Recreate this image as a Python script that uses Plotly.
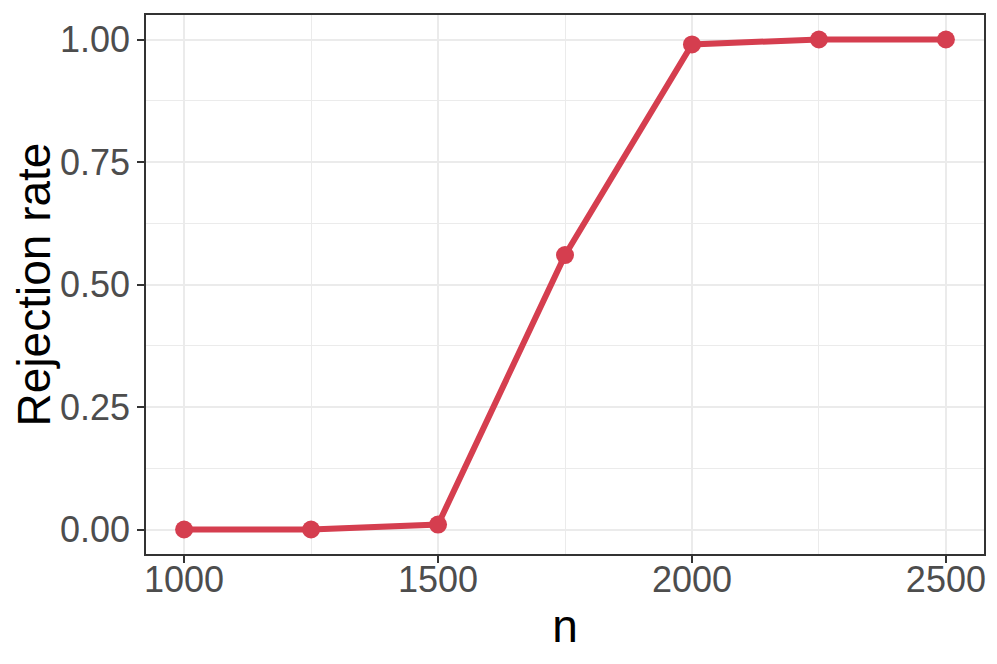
"""Rejection rate vs sample size, ggplot theme_bw look."""

import plotly.graph_objects as go

# Data
n_values = [1000, 1250, 1500, 1750, 2000, 2250, 2500]
rejection_rate = [0.0, 0.0, 0.01, 0.56, 0.99, 1.0, 1.0]
x_ticks = [1000, 1500, 2000, 2500]
y_ticks = [0.0, 0.25, 0.5, 0.75, 1.0]

RED = "#D53E4F"
GRID = "#EBEBEB"
DARK = "#333333"
FONT = "Liberation Sans, Arial, sans-serif"

fig = go.Figure()

fig.add_trace(go.Scatter(
    x=n_values,
    y=rejection_rate,
    mode="lines+markers",
    line=dict(color=RED, width=6),
    marker=dict(color=RED, size=18),
    showlegend=False,
))

axis_common = dict(
    showline=True,
    mirror=True,
    linecolor=DARK,
    linewidth=1.5,
    ticks="outside",
    ticklen=7,
    tickwidth=1.5,
    tickcolor=DARK,
    showgrid=True,
    gridcolor=GRID,
    gridwidth=2,
    zeroline=False,
    tickfont=dict(family=FONT, size=36, color="#4D4D4D"),
)

# page body has an 8px margin, so the figure is a bit smaller than the window
fig.update_layout(
    width=989,
    height=656,
    margin=dict(l=138, r=13, t=5, b=110),
    plot_bgcolor="white",
    paper_bgcolor="white",
    xaxis=dict(
        range=[925, 2575],
        tickvals=x_ticks,
        ticktext=[str(v) for v in x_ticks],
        ticklabelstandoff=-14,
        minor=dict(tick0=1000, dtick=250, showgrid=True, gridcolor=GRID,
                   gridwidth=1, ticks=""),
        title=dict(text="n", font=dict(family=FONT, size=46, color="black"),
                   standoff=11),
        **axis_common,
    ),
    yaxis=dict(
        range=[-0.05, 1.05],
        tickvals=y_ticks,
        tickformat=".2f",
        minor=dict(tick0=0, dtick=0.125, showgrid=True, gridcolor=GRID,
                   gridwidth=1, ticks=""),
        title=dict(text="Rejection rate",
                   font=dict(family=FONT, size=46, color="black"),
                   standoff=8),
        **axis_common,
    ),
)

fig.write_html("out.html")
